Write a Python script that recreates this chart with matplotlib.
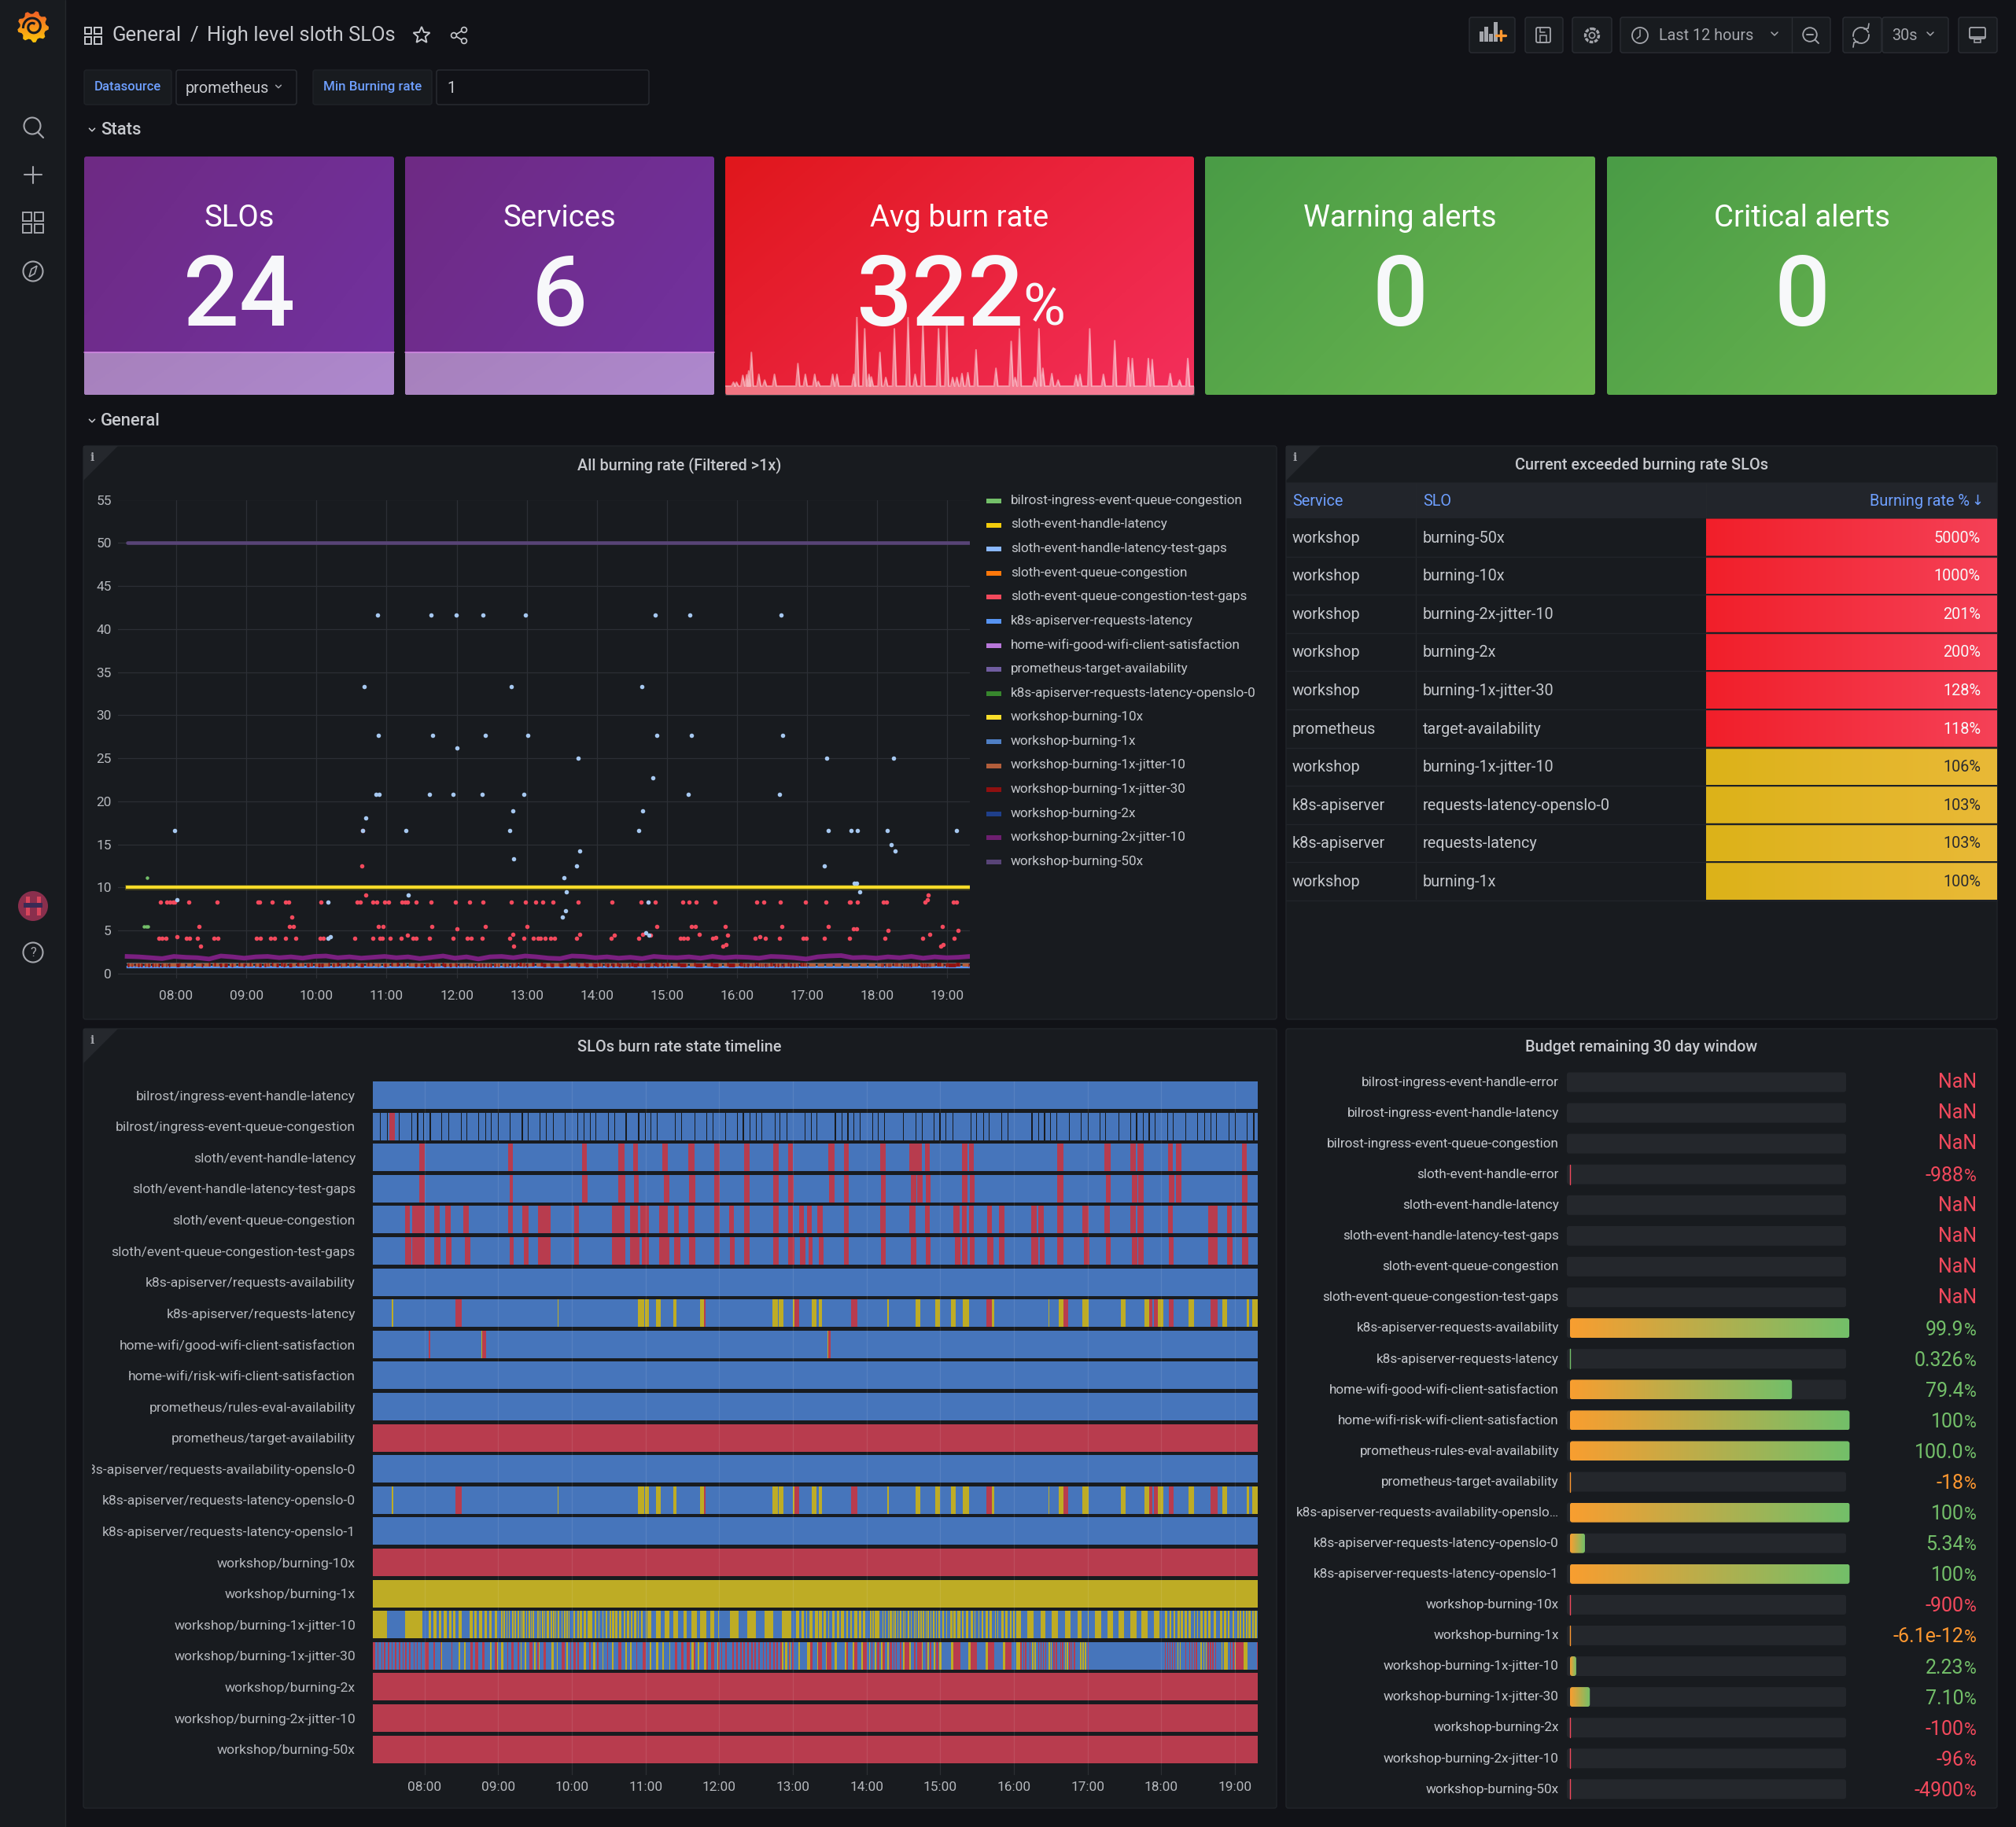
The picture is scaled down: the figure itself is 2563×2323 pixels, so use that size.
import matplotlib
matplotlib.use('Agg')
import matplotlib.pyplot as plt
import numpy as np
from matplotlib.colors import to_rgb
from matplotlib.patches import FancyBboxPatch, Polygon, Circle, Rectangle, Arc
from matplotlib.transforms import Bbox

plt.rcParams['font.family'] = ['Roboto', 'DejaVu Sans']

W, H = 2563, 2323
BG = '#111217'
PANEL = '#181B1F'
TXT = '#C7C9CE'
DIM = '#A4A6AC'
LINK = '#6E9FFF'
T_BLUE, T_RED, T_YEL = '#4675BB', '#B83C4E', '#BEAC25'

# ---------------------------------------------------------------- data
stat_titles = ['SLOs', 'Services', 'Warning alerts', 'Critical alerts']
stat_values = ['24', '6', '0', '0']

# avg burn rate sparkline, peaks over a flat base
spark_base = 1.0
spark_t = [7.53, 7.61, 7.77, 7.87, 7.92, 7.99, 8.18, 8.33, 8.58, 9.18, 9.37, 9.61, 9.70, 10.07, 10.18,
           10.61, 10.69, 10.89, 11.0, 11.06, 11.28, 11.43, 11.65, 12.0, 12.18, 12.38, 12.78, 12.99,
           13.14, 13.25, 13.38, 13.53, 13.74, 14.25, 14.64, 14.74, 14.85, 15.24, 15.35, 15.45, 15.68,
           15.84, 16.30, 16.40, 16.65, 17.0, 17.29, 17.64, 17.74, 18.15, 18.25, 18.71, 18.95, 19.16]
spark_v = [1.45, 1.45, 2.24, 2.3, 2.76, 4.88, 2.36, 1.7, 2.36, 3.6, 2.36, 2.36, 1.55, 2.36, 2.36,
           2.36, 8.97, 7.6, 2.36, 2.06, 4.88, 2.0, 7.6, 8.9, 2.36, 8.2, 7.6, 8.2,
           2.0, 2.0, 2.45, 2.55, 5.18, 3.06, 6.15, 2.0, 7.6, 2.0, 7.6, 3.06, 2.45,
           1.7, 2.24, 2.36, 7.6, 2.36, 6.24, 4.27, 4.18, 4.18, 4.06, 2.45, 1.7, 4.18]

legend_names = ['bilrost-ingress-event-queue-congestion', 'sloth-event-handle-latency',
                'sloth-event-handle-latency-test-gaps', 'sloth-event-queue-congestion',
                'sloth-event-queue-congestion-test-gaps', 'k8s-apiserver-requests-latency',
                'home-wifi-good-wifi-client-satisfaction', 'prometheus-target-availability',
                'k8s-apiserver-requests-latency-openslo-0', 'workshop-burning-10x', 'workshop-burning-1x',
                'workshop-burning-1x-jitter-10', 'workshop-burning-1x-jitter-30', 'workshop-burning-2x',
                'workshop-burning-2x-jitter-10', 'workshop-burning-50x']
legend_colors = ['#73BF69', '#F2CC0C', '#8AB8FF', '#FF780A', '#F2495C', '#5794F2', '#B877D9', '#705DA0',
                 '#37872D', '#FADE2A', '#4F7FC4', '#B25E3B', '#8F1010', '#1F3F8A', '#6D1F6F', '#584477']

blue_t = [10.87, 11.64, 11.99, 12.38, 12.98, 14.83, 15.33, 16.63, 10.68, 12.78, 14.64, 10.88, 11.66, 12.41,
          13.01, 14.86, 15.35, 16.65, 12.0, 13.73, 17.28, 18.23, 14.80, 10.85, 10.90, 11.61, 11.95, 12.36,
          12.96, 15.30, 16.60, 12.80, 14.65, 10.70, 7.98, 10.66, 11.28, 12.76, 14.60, 17.30, 17.63, 17.72,
          18.14, 19.13, 18.20, 13.76, 18.25, 12.81, 13.71, 17.25, 13.53, 17.67, 17.71, 13.56, 17.75, 11.31,
          8.01, 10.17, 14.73, 13.55, 13.51, 14.70, 14.74, 10.20, 10.16]
blue_v = [41.6, 41.6, 41.6, 41.6, 41.6, 41.6, 41.6, 41.6, 33.3, 33.3, 33.3, 27.7, 27.7, 27.7,
          27.7, 27.7, 27.7, 27.7, 26.2, 25, 25, 25, 22.7, 20.8, 20.8, 20.8, 20.8, 20.8,
          20.8, 20.8, 20.8, 18.9, 18.9, 18.1, 16.6, 16.6, 16.6, 16.6, 16.6, 16.6, 16.6, 16.6,
          16.6, 16.6, 15, 14.2, 14.2, 13.3, 12.5, 12.5, 11.1, 10.5, 10.5, 9.5, 9.5, 9.1,
          8.6, 8.3, 8.3, 7.3, 6.6, 4.7, 4.5, 4.3, 4.1]
green_t = [7.58, 7.54, 7.57, 7.60]
green_v = [11.1, 5.5, 5.5, 5.5]

red_t_83 = [7.78, 7.87, 7.91, 7.95, 7.98, 8.18, 8.58, 9.17, 9.19, 9.37, 9.56, 9.60, 10.07, 10.58, 10.62, 10.81,
            10.86, 10.97, 11.03, 11.22, 11.26, 11.30, 11.42, 11.64, 11.98, 12.18, 12.38, 12.78, 12.98, 13.13,
            13.23, 13.37, 13.73, 14.22, 14.63, 14.83, 15.23, 15.32, 15.42, 15.68, 16.28, 16.38, 16.62, 16.97,
            17.27, 17.60, 17.62, 17.72, 18.09, 18.13, 19.08, 19.13]
red_t_55 = [8.33, 9.62, 9.67, 10.88, 10.95, 11.65, 12.41, 13.0, 14.86, 15.35, 15.40, 15.83, 16.64, 17.30, 18.93]
red_t_41 = [7.75, 7.80, 7.85, 8.15, 8.19, 8.30, 8.54, 8.59, 9.14, 9.20, 9.35, 9.40, 9.56, 9.70, 10.05, 10.10,
            10.55, 10.81, 10.91, 10.94, 11.05, 11.21, 11.38, 11.42, 11.61, 11.95, 12.15, 12.21, 12.36, 12.76,
            12.96, 13.09, 13.16, 13.20, 13.26, 13.34, 13.40, 13.71, 14.20, 14.60, 15.19, 15.24, 15.29, 15.65,
            16.26, 16.40, 16.60, 16.94, 16.99, 17.25, 17.60, 18.11, 18.65, 19.10]
red_other_t = [10.66, 10.65, 10.70, 9.65, 8.01, 8.35, 11.30, 12.80, 12.81, 13.76, 14.25, 14.65, 14.77, 15.46,
               15.70, 15.80, 15.84, 15.86, 16.32, 18.75, 18.68, 18.71, 18.72, 18.90, 18.94, 12.0, 17.66, 17.70,
               18.15, 19.15]
red_other_v = [16.6, 12.5, 9.1, 6.6, 4.3, 3.2, 4.5, 4.6, 3.2, 4.6, 4.5, 4.6, 4.5, 4.6,
               4.2, 3.2, 3.4, 4.5, 4.3, 4.6, 8.3, 8.6, 9.1, 3.2, 3.4, 5.2, 5.2, 5.2,
               5.0, 5.0]

jitter_2x = [2.0, 1.95, 1.85, 1.75, 2.0, 1.9, 1.85, 1.7, 2.05, 1.95, 1.8, 1.95, 2.0, 1.85, 1.95, 1.8, 2.0, 2.05,
             1.85, 1.95, 1.8, 1.9, 2.0, 1.85, 1.95, 1.75, 1.9, 2.05, 1.8, 1.95, 1.7, 1.95, 2.0, 1.85, 2.05, 1.95,
             1.8, 1.75, 2.05, 2.0, 1.85, 1.95, 1.8, 1.9, 1.75, 2.0, 1.9, 1.85, 1.95, 1.8, 2.0, 1.85, 1.95, 1.9,
             1.8, 2.0, 1.95, 1.85, 1.7, 1.95, 2.05, 2.1, 1.85, 1.9, 1.8, 1.95, 1.85, 2.0, 1.8, 1.95, 1.85, 1.9, 2.0]

table_service = ['workshop', 'workshop', 'workshop', 'workshop', 'workshop', 'prometheus', 'workshop',
                 'k8s-apiserver', 'k8s-apiserver', 'workshop']
table_slo = ['burning-50x', 'burning-10x', 'burning-2x-jitter-10', 'burning-2x', 'burning-1x-jitter-30',
             'target-availability', 'burning-1x-jitter-10', 'requests-latency-openslo-0', 'requests-latency',
             'burning-1x']
table_rate = [5000, 1000, 201, 200, 128, 118, 106, 103, 103, 100]

tl_labels = ['bilrost/ingress-event-handle-latency', 'bilrost/ingress-event-queue-congestion',
             'sloth/event-handle-latency', 'sloth/event-handle-latency-test-gaps', 'sloth/event-queue-congestion',
             'sloth/event-queue-congestion-test-gaps', 'k8s-apiserver/requests-availability',
             'k8s-apiserver/requests-latency', 'home-wifi/good-wifi-client-satisfaction',
             'home-wifi/risk-wifi-client-satisfaction', 'prometheus/rules-eval-availability',
             'prometheus/target-availability', 'k8s-apiserver/requests-availability-openslo-0',
             'k8s-apiserver/requests-latency-openslo-0', 'k8s-apiserver/requests-latency-openslo-1',
             'workshop/burning-10x', 'workshop/burning-1x', 'workshop/burning-1x-jitter-10',
             'workshop/burning-1x-jitter-30', 'workshop/burning-2x', 'workshop/burning-2x-jitter-10',
             'workshop/burning-50x']
tl_base = ['ok', 'ok', 'ok', 'ok', 'ok', 'ok', 'ok', 'ok', 'ok', 'ok', 'ok', 'crit', 'ok', 'ok', 'ok', 'crit',
           'warn', 'ok', 'ok', 'crit', 'crit', 'crit']

queue_gaps = [7.39, 7.49, 7.65, 7.82, 7.90, 7.98, 8.07, 8.23, 8.32, 8.49, 8.57, 8.73, 8.82, 8.90, 8.99, 9.15, 9.32,
              9.40, 9.56, 9.65, 9.74, 9.90, 10.07, 10.16, 10.24, 10.32, 10.49, 10.57, 10.73, 10.90, 10.99, 11.07,
              11.15, 11.40, 11.48, 11.66, 11.82, 11.91, 12.08, 12.24, 12.32, 12.41, 12.50, 12.57, 12.75, 12.82,
              12.91, 13.16, 13.24, 13.32, 13.57, 13.66, 13.74, 13.82, 13.91, 14.08, 14.15, 14.24, 14.49, 14.66,
              14.75, 14.91, 14.99, 15.07, 15.17, 15.41, 15.49, 15.58, 15.66, 15.83, 15.91, 16.24, 16.33, 16.41,
              16.49, 16.58, 16.75, 16.91, 17.00, 17.16, 17.24, 17.42, 17.58, 17.66, 17.75, 17.83, 17.91, 18.08,
              18.16, 18.33, 18.49, 18.58, 18.67, 18.74, 18.91, 19.0, 19.16, 19.25]
queue_red = [(7.52, 7.60)]

handle_red = [(7.93, 8.0), (9.13, 9.2), (10.14, 10.2), (10.63, 10.71), (10.83, 10.9), (11.23, 11.3), (11.58, 11.66),
              (11.93, 12.01), (12.34, 12.41), (12.73, 12.81), (12.93, 13.0), (13.48, 13.57), (13.69, 13.76),
              (14.18, 14.26), (14.58, 14.66), (14.67, 14.75), (14.79, 14.86), (15.29, 15.37), (15.39, 15.46),
              (16.59, 16.67), (17.23, 17.31), (17.58, 17.66), (17.68, 17.76), (18.09, 18.16), (18.20, 18.27),
              (19.10, 19.16)]
handle_gaps_red = [(7.93, 8.0), (9.15, 9.2), (10.14, 10.21), (10.63, 10.72), (10.84, 10.91), (11.25, 11.32),
                   (11.59, 11.67), (11.93, 12.01), (12.34, 12.41), (12.73, 12.81), (12.94, 13.01), (13.49, 13.57),
                   (13.69, 13.76), (14.19, 14.26), (14.60, 14.68), (14.69, 14.76), (14.80, 14.87), (15.29, 15.37),
                   (15.40, 15.47), (16.59, 16.67), (17.25, 17.31), (17.60, 17.68), (17.69, 17.76), (18.10, 18.18),
                   (18.20, 18.27), (19.10, 19.17)]
sloth_queue_red = [(7.73, 7.80), (7.83, 8.0), (8.13, 8.2), (8.28, 8.35), (8.53, 8.6), (9.13, 9.2), (9.33, 9.41),
                   (9.54, 9.71), (10.03, 10.1), (10.54, 10.71), (10.79, 10.9), (10.93, 11.05), (11.18, 11.3),
                   (11.39, 11.45), (11.58, 11.66), (11.93, 12.01), (12.13, 12.2), (12.34, 12.41), (12.73, 12.81),
                   (12.93, 13.0), (13.08, 13.15), (13.19, 13.26), (13.33, 13.4), (13.69, 13.76), (14.18, 14.26),
                   (14.58, 14.66), (14.79, 14.86), (15.18, 15.26), (15.29, 15.36), (15.39, 15.46), (15.64, 15.7),
                   (15.80, 15.87), (16.24, 16.31), (16.33, 16.41), (16.59, 16.67), (16.93, 17.01), (17.23, 17.3),
                   (17.58, 17.66), (17.68, 17.76), (18.09, 18.16), (18.64, 18.77), (18.89, 18.96), (19.10, 19.16)]
queue_gaps_red = [(7.74, 7.82), (7.83, 8.0), (8.13, 8.21), (8.29, 8.36), (8.55, 8.62), (9.15, 9.21), (9.35, 9.41),
                  (9.54, 9.71), (10.03, 10.1), (10.54, 10.72), (10.79, 10.92), (10.95, 11.05), (11.18, 11.32),
                  (11.39, 11.47), (11.59, 11.67), (11.93, 12.01), (12.15, 12.21), (12.34, 12.41), (12.73, 12.81),
                  (12.94, 13.02), (13.10, 13.17), (13.21, 13.27), (13.35, 13.42), (13.69, 13.76), (14.19, 14.26),
                  (14.60, 14.68), (14.80, 14.87), (15.20, 15.27), (15.29, 15.37), (15.40, 15.47), (15.64, 15.72),
                  (15.80, 15.87), (16.24, 16.33), (16.35, 16.42), (16.59, 16.67), (16.95, 17.02), (17.25, 17.31),
                  (17.60, 17.68), (17.69, 17.76), (18.10, 18.17), (18.64, 18.77), (18.89, 18.97), (19.10, 19.18)]

latency_yellow = [(7.55, 7.57), (9.81, 9.82), (10.90, 10.98), (10.99, 11.05), (11.14, 11.2), (11.38, 11.42),
                  (11.74, 11.80), (12.72, 12.8), (12.81, 12.87), (13.0, 13.02), (13.26, 13.32), (13.35, 13.39),
                  (14.28, 14.3), (14.66, 14.73), (14.93, 15.0), (15.15, 15.21), (15.31, 15.39), (15.70, 15.73),
                  (16.47, 16.48), (16.61, 16.67), (16.93, 17.01), (17.45, 17.52), (17.77, 17.84), (17.95, 18.03),
                  (18.37, 18.44), (18.83, 18.89), (19.07, 19.08), (19.16, 19.19), (19.24, 19.31)]
latency_red = [(8.42, 8.50), (11.79, 11.81), (13.02, 13.08), (13.79, 13.87), (15.63, 15.7), (16.67, 16.74),
               (17.84, 17.88), (17.90, 17.95), (18.10, 18.17), (18.67, 18.77)]
wifi_yellow = [(8.77, 8.78), (13.47, 13.48)]
wifi_red = [(8.06, 8.08), (8.78, 8.84), (13.48, 13.51)]

jitter10_yellow = [(7.30, 7.49), (7.73, 7.97), (8.06, 8.09), (8.12, 8.16), (8.19, 8.23), (8.26, 8.30), (8.33, 8.36),
                   (8.39, 8.42), (8.46, 8.50), (8.61, 8.65), (8.67, 8.71), (8.74, 8.78), (8.81, 8.85), (8.88, 8.91),
                   (8.95, 8.98), (9.04, 9.06), (9.07, 9.09), (9.11, 9.12), (9.14, 9.16), (9.19, 9.21), (9.22, 9.24),
                   (9.26, 9.28), (9.30, 9.31), (9.33, 9.36), (9.38, 9.39), (9.41, 9.43), (9.44, 9.45), (9.47, 9.49),
                   (9.53, 9.55), (9.56, 9.57), (9.59, 9.61), (9.62, 9.64), (9.66, 9.69), (9.71, 9.73), (9.74, 9.76),
                   (9.77, 9.79), (9.81, 9.83), (9.86, 9.87), (9.89, 9.91), (9.92, 9.94), (9.96, 9.97), (10.02, 10.04),
                   (10.07, 10.10), (10.11, 10.14), (10.16, 10.19), (10.21, 10.25), (10.25, 10.28), (10.31, 10.33),
                   (10.36, 10.37), (10.41, 10.43), (10.46, 10.48), (10.51, 10.53), (10.54, 10.58), (10.59, 10.62),
                   (10.64, 10.67), (10.70, 10.73), (10.75, 10.78), (10.80, 10.82), (10.84, 10.87), (10.90, 10.91),
                   (10.94, 10.96), (11.0, 11.01), (11.02, 11.08), (11.14, 11.20), (11.26, 11.32), (11.38, 11.44),
                   (11.52, 11.56), (11.62, 11.70), (11.74, 11.82), (11.88, 11.93), (11.99, 12.0), (12.15, 12.26),
                   (12.38, 12.50), (12.62, 12.73), (12.85, 12.98), (13.04, 13.08), (13.12, 13.15), (13.18, 13.19),
                   (13.22, 13.27), (13.30, 13.34), (13.35, 13.39), (13.42, 13.45), (13.48, 13.49), (13.53, 13.57),
                   (13.60, 13.63), (13.65, 13.69), (13.72, 13.75), (13.78, 13.80), (13.83, 13.87), (13.90, 13.93),
                   (13.95, 13.98), (14.05, 14.07), (14.08, 14.10), (14.11, 14.14), (14.14, 14.17), (14.19, 14.20),
                   (14.22, 14.23), (14.25, 14.26), (14.29, 14.30), (14.31, 14.34), (14.35, 14.37), (14.38, 14.40),
                   (14.42, 14.43), (14.45, 14.47), (14.49, 14.50), (14.52, 14.53), (14.56, 14.58), (14.60, 14.61),
                   (14.64, 14.65), (14.67, 14.68), (14.70, 14.72), (14.73, 14.75), (14.76, 14.78), (14.80, 14.81),
                   (14.83, 14.85), (14.87, 14.88), (14.90, 14.92), (14.94, 14.95), (14.97, 15.0), (15.03, 15.05),
                   (15.08, 15.09), (15.14, 15.17), (15.18, 15.21), (15.23, 15.27), (15.29, 15.32), (15.35, 15.38),
                   (15.41, 15.44), (15.47, 15.48), (15.52, 15.53), (15.56, 15.58), (15.62, 15.65), (15.67, 15.70),
                   (15.74, 15.75), (15.78, 15.79), (15.83, 15.86), (15.88, 15.91), (15.95, 15.97), (15.99, 16.01),
                   (16.03, 16.10), (16.18, 16.27), (16.36, 16.43), (16.51, 16.60), (16.69, 16.77), (16.86, 16.92),
                   (17.0, 17.01), (17.10, 17.19), (17.27, 17.34), (17.42, 17.50), (17.58, 17.67), (17.73, 17.81),
                   (17.90, 17.98), (18.05, 18.08), (18.11, 18.14), (18.17, 18.19), (18.22, 18.25), (18.26, 18.30),
                   (18.32, 18.35), (18.37, 18.40), (18.44, 18.46), (18.49, 18.50), (18.53, 18.56), (18.58, 18.62),
                   (18.64, 18.67), (18.71, 18.74), (18.80, 18.83), (18.85, 18.88), (18.90, 18.93), (18.97, 18.99),
                   (19.03, 19.05), (19.06, 19.09), (19.11, 19.13), (19.15, 19.17), (19.18, 19.21), (19.23, 19.26),
                   (19.27, 19.30)]

jitter30_red = [(7.30, 7.33), (7.36, 7.37), (7.41, 7.42), (7.45, 7.47), (7.50, 7.52), (7.55, 7.56), (7.60, 7.62),
                (7.65, 7.67), (7.70, 7.71), (7.74, 7.76), (7.79, 7.81), (7.85, 7.86), (7.89, 7.91), (7.95, 7.96),
                (8.0, 8.05), (8.12, 8.14), (8.21, 8.23), (8.36, 8.38), (8.62, 8.65), (8.69, 8.73), (8.78, 8.81),
                (8.95, 8.98), (9.12, 9.13), (9.18, 9.21), (9.26, 9.28), (9.42, 9.46), (9.53, 9.55), (9.61, 9.65),
                (9.86, 9.90), (9.98, 9.99), (10.02, 10.05), (10.07, 10.10), (10.23, 10.25), (10.34, 10.36),
                (10.48, 10.49), (10.63, 10.67), (10.87, 10.88), (10.96, 11.0), (11.40, 11.43), (11.48, 11.52),
                (11.56, 11.60), (11.65, 11.68), (11.82, 11.85), (11.89, 11.93), (11.98, 12.01), (12.03, 12.04),
                (12.08, 12.10), (12.14, 12.15), (12.18, 12.20), (12.23, 12.25), (12.28, 12.30), (12.33, 12.35),
                (12.38, 12.40), (12.43, 12.45), (12.48, 12.50), (12.53, 12.55), (12.59, 12.60), (12.64, 12.65),
                (12.68, 12.70), (12.73, 12.75), (12.78, 12.80), (12.83, 12.85), (12.95, 12.96), (12.99, 13.01),
                (13.23, 13.27), (13.34, 13.39), (13.46, 13.52), (13.72, 13.75), (13.83, 13.88), (13.95, 14.0),
                (14.07, 14.08), (14.14, 14.17), (14.22, 14.25), (14.31, 14.34), (14.37, 14.38), (14.40, 14.41),
                (14.45, 14.47), (14.52, 14.58), (14.64, 14.66), (14.69, 14.75), (14.80, 14.81), (14.86, 14.88),
                (14.94, 14.97), (15.18, 15.27), (15.41, 15.50), (15.65, 15.73), (15.88, 15.97), (16.09, 16.11),
                (16.13, 16.14), (16.15, 16.17), (16.21, 16.22), (16.33, 16.34), (16.36, 16.37), (16.39, 16.41),
                (16.43, 16.44), (16.53, 16.55), (16.57, 16.59), (16.63, 16.64), (16.65, 16.67), (16.75, 16.77),
                (16.78, 16.79), (16.81, 16.83), (16.86, 16.87), (17.0, 17.01), (18.05, 18.06), (18.08, 18.09),
                (18.11, 18.12), (18.15, 18.16), (18.18, 18.19), (18.33, 18.34), (18.38, 18.39), (18.41, 18.42),
                (18.45, 18.46), (18.47, 18.49), (18.63, 18.65), (18.66, 18.68), (18.69, 18.71), (18.73, 18.74),
                (18.75, 18.76), (18.94, 18.95), (18.97, 18.99), (19.01, 19.12), (19.30, 19.31)]
jitter30_yellow = [(8.05, 8.06), (8.13, 8.14), (8.23, 8.24), (8.46, 8.48), (8.54, 8.56), (8.89, 8.91), (8.98, 8.99),
                   (9.04, 9.07), (9.30, 9.31), (9.36, 9.38), (9.49, 9.51), (9.55, 9.56), (9.72, 9.75), (9.80, 9.81),
                   (9.92, 9.94), (10.16, 10.19), (10.29, 10.32), (10.41, 10.43), (10.54, 10.56), (10.73, 10.75),
                   (10.79, 10.81), (11.06, 11.08), (11.14, 11.17), (11.23, 11.25), (11.32, 11.33), (11.62, 11.65),
                   (11.71, 11.73), (11.79, 11.82), (11.97, 11.98), (12.85, 12.87), (12.89, 12.92), (12.96, 12.97),
                   (13.07, 13.10), (13.19, 13.23), (13.33, 13.34), (13.45, 13.46), (13.57, 13.60), (13.70, 13.72),
                   (13.81, 13.83), (13.93, 13.95), (14.03, 14.05), (14.11, 14.13), (14.20, 14.22), (14.28, 14.30),
                   (14.49, 14.52), (14.58, 14.60), (14.75, 14.76), (14.82, 14.85), (14.91, 14.93), (14.99, 15.02),
                   (15.15, 15.18), (15.38, 15.41), (15.62, 15.65), (15.85, 15.88), (16.03, 16.06), (16.06, 16.08),
                   (16.25, 16.27), (16.28, 16.30), (16.47, 16.49), (16.50, 16.51), (16.69, 16.70), (16.72, 16.74),
                   (16.90, 16.92), (16.93, 16.95), (16.96, 16.98), (18.22, 18.23), (18.25, 18.26), (18.28, 18.29),
                   (18.53, 18.55), (18.57, 18.58), (18.61, 18.62), (18.82, 18.83), (18.85, 18.88), (18.88, 18.90),
                   (19.0, 19.01), (19.12, 19.17)]

budget_names = ['bilrost-ingress-event-handle-error', 'bilrost-ingress-event-handle-latency',
                'bilrost-ingress-event-queue-congestion', 'sloth-event-handle-error', 'sloth-event-handle-latency',
                'sloth-event-handle-latency-test-gaps', 'sloth-event-queue-congestion',
                'sloth-event-queue-congestion-test-gaps', 'k8s-apiserver-requests-availability',
                'k8s-apiserver-requests-latency', 'home-wifi-good-wifi-client-satisfaction',
                'home-wifi-risk-wifi-client-satisfaction', 'prometheus-rules-eval-availability',
                'prometheus-target-availability', 'k8s-apiserver-requests-availability-openslo…',
                'k8s-apiserver-requests-latency-openslo-0', 'k8s-apiserver-requests-latency-openslo-1',
                'workshop-burning-10x', 'workshop-burning-1x', 'workshop-burning-1x-jitter-10',
                'workshop-burning-1x-jitter-30', 'workshop-burning-2x', 'workshop-burning-2x-jitter-10',
                'workshop-burning-50x']
budget_values = [np.nan, np.nan, np.nan, -988, np.nan, np.nan, np.nan, np.nan, 99.9, 0.326, 79.4, 100, 100.0, -18,
                 100, 5.34, 100, -900, -6.1e-12, 2.23, 7.10, -100, -96, -4900]
budget_text = ['NaN', 'NaN', 'NaN', '-988', 'NaN', 'NaN', 'NaN', 'NaN', '99.9', '0.326', '79.4', '100', '100.0', '-18',
               '100', '5.34', '100', '-900', '-6.1e-12', '2.23', '7.10', '-100', '-96', '-4900']

fig = plt.figure(figsize=(W / 100, H / 100), dpi=100, facecolor=BG)
base = fig.add_axes([0, 0, 1, 1], zorder=0)
base.set_xlim(0, W)
base.set_ylim(H, 0)
base.axis('off')
base.set_autoscale_on(False)
top = fig.add_axes([0, 0, 1, 1], zorder=5)
top.set_xlim(0, W)
top.set_ylim(H, 0)
top.axis('off')
top.patch.set_alpha(0)


def box(x0, y0, x1, y1, fc, ec='none', r=3, z=1, lw=1, ax=base):
    p = FancyBboxPatch((x0, y0), x1 - x0, y1 - y0, boxstyle=f'round,pad=0,rounding_size={r}',
                       fc=fc, ec=ec, lw=lw, zorder=z)
    ax.add_patch(p)
    return p


def grad(x0, y0, x1, y1, c0, c1, r=3, diag=0.0, z=2):
    X, Y = np.meshgrid(np.linspace(0, 1, 64), np.linspace(0, 1, 64))
    t = ((X + diag * Y) / (1 + diag))[..., None]
    arr = np.array(to_rgb(c0)) * (1 - t) + np.array(to_rgb(c1)) * t
    im = base.imshow(arr, extent=(x0, x1, y1, y0), origin='upper', aspect='auto', zorder=z,
                     interpolation='bilinear')
    clip = FancyBboxPatch((x0, y0), x1 - x0, y1 - y0, boxstyle=f'round,pad=0,rounding_size={r}',
                          transform=base.transData, fc='none', ec='none')
    im.set_clip_path(clip)
    return im


def chevron(x, y, s=4, c=DIM, ax=base):
    ax.plot([x - s, x, x + s], [y - s / 2, y + s / 2, y - s / 2], color=c, lw=1.1, zorder=6,
            solid_capstyle='round')


def txt(x, y, s, size, c=TXT, ha='left', va='center', weight='normal', ax=base, **kw):
    if va == 'center':
        y = y + 1.3
    return ax.text(x, y, s, fontsize=size, color=c, ha=ha, va=va, fontweight=weight, zorder=8, **kw)


def line(xs, ys, c=DIM, lw=1.3, z=6):
    base.plot(xs, ys, color=c, lw=lw, zorder=z, solid_capstyle='round')


def grid_icon(cx, cy, s, c=DIM):
    for dx in (-s, 2):
        for dy in (-s, 2):
            base.add_patch(Rectangle((cx + dx, cy + dy), s - 2, s - 2, fc='none', ec=c, lw=1.4, zorder=6))


# ---------------------------------------------------------------- side bar
base.add_patch(Rectangle((0, 0), 83, H, fc=PANEL, ec='none', zorder=0.5))
line([83, 83], [0, H], '#24272C', 1, 1)
# logo
ang = np.linspace(0, 2 * np.pi, 37)
rad = np.where(np.arange(37) % 4 < 2, 20, 16.5)
logo = Polygon(np.c_[42 + rad * np.cos(ang), 34 + rad * np.sin(ang)], closed=True, transform=base.transData,
               fc='none', ec='none')
Xg, Yg = np.meshgrid(np.linspace(0, 1, 8), np.linspace(0, 1, 32))
logo_arr = np.array(to_rgb('#F05A28')) * (1 - Yg[..., None]) + np.array(to_rgb('#FBCA0A')) * Yg[..., None]
im = base.imshow(logo_arr, extent=(20, 64, 56, 12), origin='upper', aspect='auto', zorder=3)
im.set_clip_path(logo)
th = np.linspace(0.5, 4.4 * np.pi / 1.6, 60)
base.plot(42 + (13 - th * 1.0) * np.cos(th + 2.6), 34 + (13 - th * 1.0) * np.sin(th + 2.6), color=PANEL, lw=2.2, zorder=4)
# search
base.add_patch(Circle((41, 160), 10.5, fc='none', ec=DIM, lw=1.5, zorder=6))
line([48, 55], [168, 175], DIM, 1.6)
# plus
line([42, 42], [212, 233], DIM, 1.5)
line([31, 53], [222, 222], DIM, 1.5)
grid_icon(42, 283, 13)
# compass
base.add_patch(Circle((42, 345), 12.5, fc='none', ec=DIM, lw=1.5, zorder=6))
base.add_patch(Polygon([(47, 338), (44, 348), (37, 352), (40, 342)], closed=True, fc='none', ec=DIM, lw=1.2, zorder=6))
# avatar
base.add_patch(Circle((42, 1152), 19, fc='#8A2F4D', ec='none', zorder=6))
for dx in (-9, 5):
    base.add_patch(Rectangle((42 + dx, 1140), 5, 24, fc='#D8455C', ec='none', zorder=7))
base.add_patch(Rectangle((30, 1148), 24, 6, fc='#3A2A55', ec='none', zorder=7))
# help
base.add_patch(Circle((42, 1211), 12.5, fc='none', ec=DIM, lw=1.5, zorder=6))
txt(42, 1210, '?', 12, DIM, ha='center')

# ---------------------------------------------------------------- header
grid_icon(118, 45, 10.5, TXT)
txt(142, 44, 'General', 18.6, TXT)
txt(242, 44, '/', 18.6, TXT)
txt(263, 44, 'High level sloth SLOs', 18.4, TXT)
star_a = np.linspace(-np.pi / 2, 1.5 * np.pi, 11)
star_r = np.where(np.arange(11) % 2 == 0, 11, 5)
base.add_patch(Polygon(np.c_[536 + star_r * np.cos(star_a), 45 + star_r * np.sin(star_a)], closed=True, fc='none',
                       ec=TXT, lw=1.4, zorder=6))
for a, b in (((578, 45), (589, 38)), ((578, 45), (589, 52))):
    line([a[0], b[0]], [a[1], b[1]], TXT, 1.2)
for c in ((577, 45), (590, 38), (590, 52)):
    base.add_patch(Circle(c, 3.4, fc=BG, ec=TXT, lw=1.2, zorder=7))

# toolbar
for x0, x1 in ((1868, 1926), (1939, 1987), (1999, 2049), (2060, 2327), (2343, 2392), (2393, 2477), (2490, 2539)):
    box(x0, 22, x1, 67, PANEL, '#2A2D33', r=3)
line([2278, 2278], [22, 67], '#2A2D33', 1, 3)
for dx, h in ((0, 13), (6, 19), (12, 10), (18, 25)):
    base.add_patch(Rectangle((1881 + dx, 53 - h), 4.5, h, fc=DIM, ec='none', zorder=6))
line([1902, 1914], [45, 45], '#FF9830', 2.4, 7)
line([1908, 1908], [39, 51], '#FF9830', 2.4, 7)
box(1953, 35, 1971, 54, 'none', DIM, r=2, z=6, lw=1.3)
base.add_patch(Rectangle((1958, 45), 8, 9, fc='none', ec=DIM, lw=1.1, zorder=6))
line([1958, 1958, 1964], [35, 41, 41], DIM, 1.1)
base.add_patch(Circle((2024, 45), 8.5, fc='none', ec=DIM, lw=2.4, zorder=6, ls=(0, (1.4, 0.5))))
base.add_patch(Circle((2024, 45), 3.6, fc='none', ec=DIM, lw=1.2, zorder=6))
base.add_patch(Circle((2085, 45), 10, fc='none', ec=DIM, lw=1.3, zorder=6))
line([2085, 2085, 2081], [38, 46, 49], DIM, 1.1)
txt(2109, 44, 'Last 12 hours', 14.3, DIM)
chevron(2256, 43)
base.add_patch(Circle((2301, 44), 8.8, fc='none', ec=DIM, lw=1.3, zorder=6))
line([2297, 2305], [44, 44], DIM, 1.4)
line([2308, 2312], [51, 55], DIM, 1.4)
base.add_patch(Arc((2366, 45), 20, 20, theta1=170, theta2=340, ec=DIM, lw=1.3, zorder=6))
base.add_patch(Arc((2366, 45), 20, 20, theta1=350, theta2=160, ec=DIM, lw=1.3, zorder=6))
line([2370, 2375, 2376], [37, 36, 30], DIM, 1.2)
line([2362, 2357, 2356], [53, 54, 60], DIM, 1.2)
txt(2405, 44, '30s', 14.3, DIM)
chevron(2454, 43)
box(2504, 35, 2524, 49, 'none', DIM, r=2, z=6, lw=1.3)
line([2504, 2524], [47, 47], DIM, 1.2)
base.add_patch(Rectangle((2510, 50), 8, 4, fc='none', ec=DIM, lw=1.1, zorder=6))

# variables row
box(107, 89, 218, 133, PANEL, '#202328')
txt(162.5, 109, 'Datasource', 12.0, LINK, ha='center', weight='medium')
box(224, 89, 377, 133, BG, '#2A2D33')
txt(236, 111, 'prometheus', 14.3, TXT)
chevron(354, 110, 3.4)
box(398, 89, 549, 133, PANEL, '#202328')
txt(473.5, 109, 'Min Burning rate', 12.2, LINK, ha='center', weight='medium')
box(555, 89, 825, 133, BG, '#2A2D33')
txt(568, 111, '1', 14.3, TXT)
chevron(117, 165, 3.6, TXT)
txt(128, 164, 'Stats', 15.8, TXT, weight='medium')
chevron(117, 535, 3.6, TXT)
txt(128, 534, 'General', 15.8, TXT, weight='medium')

# ---------------------------------------------------------------- stat panels
purple_boxes = [(107, 501), (515, 908)]
green_boxes = [(1532, 2028), (2043, 2539)]
for x0, x1 in purple_boxes:
    grad(x0, 199, x1, 502, '#6E2A84', '#7232A0', diag=0.6)
    grad(x0, 448, x1, 502, '#A781BC', '#AE88CE', r=2, diag=0.2, z=3)
    line([x0, x1], [448, 448], '#D78BE8', 1.1, 4)
for x0, x1 in green_boxes:
    grad(x0, 199, x1, 502, '#4A9C46', '#6CB650', diag=0.6)
grad(922, 199, 1518, 502, '#E0171C', '#F42F5C', diag=0.6)

spark = fig.add_axes([922 / W, 1 - 502 / H, 596 / W, 99 / H], zorder=1)
spark.patch.set_alpha(0)
spark.axis('off')
spark.set_xlim(7.32, 19.32)
spark.set_ylim(0, 8.97)
pts_t, pts_v = [7.32], [spark_base]
for t, v in zip(spark_t, spark_v):
    pts_t += [t - 0.05, t, t + 0.05]
    pts_v += [spark_base, v, spark_base]
pts_t.append(19.32)
pts_v.append(spark_base)
spark.fill_between(pts_t, 0, pts_v, color='white', alpha=0.38, lw=0)
spark.plot(pts_t, pts_v, color='white', alpha=0.45, lw=1.4)

stat_centers = [(304, 0), (711.5, 1), (1780, 2), (2291, 3)]
for cx, i in stat_centers:
    txt(cx, 288, stat_titles[i], 27.5, '#FFFFFF', ha='center', va='baseline', ax=top)
    txt(cx, 414, stat_values[i], 90, '#F7F8FA', ha='center', va='baseline', weight='medium', ax=top)
txt(1220, 288, 'Avg burn rate', 27.5, '#FFFFFF', ha='center', va='baseline', ax=top)
txt(1088, 414, '322', 90, '#F7F8FA', ha='left', va='baseline', weight='medium', ax=top)
txt(1300, 414, '%', 53, '#F7F8FA', ha='left', va='baseline', ax=top)

# ---------------------------------------------------------------- panels
for x0, y0, x1, y1 in ((106, 567, 1623, 1296), (1635, 567, 2539, 1296), (106, 1308, 1623, 2299), (1635, 1308, 2539, 2299)):
    box(x0, y0, x1, y1, PANEL, '#22252A', r=3)
for x0, y0 in ((106, 567), (1635, 567), (106, 1308)):
    base.add_patch(Polygon([(x0, y0), (x0 + 44, y0), (x0, y0 + 44)], closed=True, fc='#25282D', ec='none', zorder=2))
    txt(x0 + 11, y0 + 14, 'i', 10, '#A4A6AC', ha='center', family='DejaVu Serif', weight='bold')

txt(864, 590, 'All burning rate (Filtered >1x)', 14.3, TXT, ha='center', weight='medium')
txt(2087, 590, 'Current exceeded burning rate SLOs', 14.3, TXT, ha='center', weight='medium')
txt(864, 1330, 'SLOs burn rate state timeline', 14.3, TXT, ha='center', weight='medium')
txt(2087, 1330, 'Budget remaining 30 day window', 14.3, TXT, ha='center', weight='medium')

# ---------------------------------------------------------------- burn rate graph
g = fig.add_axes([150 / W, 1 - 1244 / H, 1083 / W, (1244 - 635.5) / H], zorder=2)
g.patch.set_alpha(0)
g.set_xlim(7.17, 19.32)
g.set_ylim(-0.55, 55)
g.set_yticks(np.arange(0, 60, 5))
g.set_xticks(np.arange(8, 20))
g.set_xticklabels([f'{h:02d}:00' for h in range(8, 20)])
g.tick_params(length=0, labelsize=12.4, labelcolor='#B5B8BD', pad=11)
g.tick_params(axis='y', pad=6)
g.grid(True, color='#2C2F35', lw=0.9)
g.set_axisbelow(True)
for sp in g.spines.values():
    sp.set_visible(False)
for lab in g.get_yticklabels():
    lab.set_va('center_baseline')

full_t = [7.30, 19.32]
g.plot(full_t, [50, 50], color='#584477', lw=3.3, solid_capstyle='round', zorder=3)
g.plot(full_t, [10, 10], color='#5F5A1A', lw=5, alpha=0.7, zorder=3)
g.plot(full_t, [10, 10], color='#FADE2A', lw=2.8, zorder=4)
g.plot(full_t, [0.85, 0.85], color='#5794F2', lw=2.4, zorder=3)
g.plot(full_t, [1.15, 1.15], color='#58636B', lw=1.4, zorder=3)
g.plot(full_t, [1.0, 1.0], color='#B25E3B', lw=3.0, ls=(0, (2, 0.6)), zorder=3.5)
g.hlines([1.0] * len(jitter30_red), [a for a, b in jitter30_red], [b for a, b in jitter30_red], color='#8F1010',
         lw=3.4, zorder=4)
g.hlines([1.05] * len(jitter30_yellow), [a for a, b in jitter30_yellow], [b for a, b in jitter30_yellow],
         color='#8F1010', lw=3.4, zorder=4)
g.plot(np.linspace(7.30, 19.32, len(jitter_2x)), jitter_2x, color='#7A2080', lw=4.2, zorder=5)

g.plot(red_t_83, [8.3] * len(red_t_83), 'o', color='#F2495C', ms=4.0, mew=0, zorder=6)
g.plot(red_t_55, [5.5] * len(red_t_55), 'o', color='#F2495C', ms=4.0, mew=0, zorder=6)
g.plot(red_t_41, [4.1] * len(red_t_41), 'o', color='#F2495C', ms=4.0, mew=0, zorder=6)
g.plot(red_other_t, red_other_v, 'o', color='#F2495C', ms=4.0, mew=0, zorder=6)
g.plot(blue_t, blue_v, 'o', color='#A6C8F0', ms=4.0, mew=0, zorder=7)
g.plot(green_t, green_v, 'o', color='#73BF69', ms=3.2, mew=0, zorder=7)

leg_y0, leg_step = 637, 30.6
for i, (name, col) in enumerate(zip(legend_names, legend_colors)):
    y = leg_y0 + i * leg_step
    base.add_patch(Rectangle((1254, y - 3), 19, 6, fc=col, ec='none', zorder=3))
    txt(1285, y - 2, name, 12.3, '#C4C7CC')

# ---------------------------------------------------------------- table
box(1635, 613.5, 2539, 659, '#22252B', r=0, z=2)
col_x = [1635, 1800, 2169, 2539]
txt(1643, 636, 'Service', 14.3, LINK)
txt(1809, 636, 'SLO', 14.3, LINK)
txt(2504, 636, 'Burning rate %', 14.3, LINK, ha='right')
txt(2514, 636, '↓', 13, LINK, ha='center', family='DejaVu Sans')
for x in col_x[1:3]:
    line([x, x], [613.5, 1143], '#24272C', 1, 3)
row_h = 48.6
for i in range(len(table_rate)):
    y0 = 659 + i * row_h
    y1 = y0 + row_h
    if table_rate[i] >= 110:
        grad(col_x[2], y0 + 0.5, col_x[3], y1 - 1, '#F11F2A', '#F54157', r=0, z=3)
        c = '#F7F8FA'
    else:
        grad(col_x[2], y0 + 0.5, col_x[3], y1 - 1, '#DCB219', '#E9B937', r=0, z=3)
        c = '#2A2B30'
    line([col_x[0], col_x[3]], [y1, y1], '#22252A', 1, 4)
    txt(1643, (y0 + y1) / 2 - 0.5, table_service[i], 14.3, '#C4C7CC')
    txt(1809, (y0 + y1) / 2 - 0.5, table_slo[i], 14.3, '#C4C7CC')
    txt(2518, (y0 + y1) / 2 - 0.5, f'{table_rate[i]}%', 14.3, c, ha='right')

# ---------------------------------------------------------------- state timeline
tl = fig.add_axes([474 / W, 1 - 2257 / H, 1125 / W, (2257 - 1375) / H], zorder=2)
tl.patch.set_alpha(0)
tl.set_xlim(7.297, 19.31)
tl.set_ylim(21.83, -0.442)
tl.set_xticks(np.arange(8, 20))
tl.set_xticklabels([f'{h:02d}:00' for h in range(8, 20)])
tl.set_yticks(range(len(tl_labels)))
tl.set_yticklabels(tl_labels)
tl.tick_params(length=0, labelsize=12.4, labelcolor='#B5B8BD')
tl.tick_params(axis='y', labelsize=12.6, pad=22 * 0.72)
tl.tick_params(axis='x', pad=6)
tl.grid(True, axis='x', color='white', alpha=0.09, lw=0.9)
tl.set_axisbelow(False)
for sp in tl.spines.values():
    sp.set_visible(False)
for lab in tl.get_yticklabels():
    lab.set_va('center_baseline')

state_col = {'ok': T_BLUE, 'crit': T_RED, 'warn': T_YEL}
bar_h = 35 / 39.6
for i, st in enumerate(tl_base):
    tl.broken_barh([(7.297, 19.31 - 7.297)], (i - bar_h / 2, bar_h), color=state_col[st], lw=0, zorder=1)


def stripes(row, spans, col, z=2):
    tl.broken_barh([(a, b - a) for a, b in spans], (row - bar_h / 2, bar_h), color=col, lw=0, zorder=z)


stripes(1, queue_red, T_RED)
stripes(1, [(t, t + 0.012) for t in queue_gaps], PANEL, 3)
stripes(2, handle_red, T_RED)
stripes(3, handle_gaps_red, T_RED)
stripes(4, sloth_queue_red, T_RED)
stripes(5, queue_gaps_red, T_RED)
for r in (7, 13):
    stripes(r, latency_yellow, T_YEL)
    stripes(r, latency_red, T_RED)
stripes(8, wifi_yellow, T_YEL)
stripes(8, wifi_red, T_RED)
stripes(17, jitter10_yellow, T_YEL)
stripes(18, jitter30_yellow, T_YEL)
stripes(18, jitter30_red, T_RED)

# long label runs past the panel on the left
cut = tl.get_yticklabels()[12]
cut.set_clip_on(True)
cut.set_clip_box(Bbox([[117, 0], [W, H]]))

# ---------------------------------------------------------------- budget bars
bar_y0, bar_step = 1376, 39.08
for i, name in enumerate(budget_names):
    y = bar_y0 + i * bar_step
    val = budget_values[i]
    box(1992, y - 12.5, 2347, y + 12.5, '#24272C', r=3, z=2)
    txt(1982, y - 1, name, 12.3, '#C4C7CC', ha='right')
    if np.isnan(val):
        col = '#F2495C'
    elif val >= 0:
        col = '#73BF69'
    elif val > -50:
        col = '#FF9830'
    else:
        col = '#F2495C'
    if val > 1:
        grad(1996, y - 12.5, 1996 + 355.4 * val / 100, y + 12.5, '#F89E30', '#73BF69', r=3, z=3)
    elif not np.isnan(val):
        line([1996, 1996], [y - 12.5, y + 12.5], col, 1, 3)
    if np.isnan(val):
        txt(2513, y - 1, budget_text[i], 18, col, ha='right', va='center')
    else:
        txt(2513, y + 9, '%', 15.5, col, ha='right', va='baseline')
        txt(2496.5, y + 9, budget_text[i], 18, col, ha='right', va='baseline')

fig.savefig('out.png', dpi=100, facecolor=BG)
